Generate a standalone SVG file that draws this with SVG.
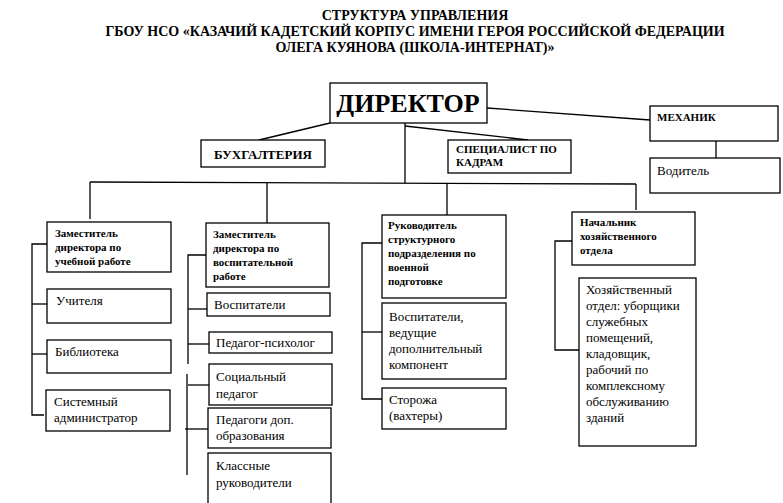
<svg xmlns="http://www.w3.org/2000/svg" width="783" height="503" viewBox="0 0 783 503">
<style>
rect{fill:#fff;stroke:#000;stroke-width:1.3}
line,polyline{stroke:#000;stroke-width:1.3;fill:none}
text{font-family:"Liberation Serif",serif;fill:#000}
.t{font-weight:bold;font-size:14px;text-anchor:middle}
.b{font-weight:bold;font-size:11px}
.n{font-size:13px}
</style>
<rect x="0" y="0" width="783" height="503" style="stroke:none"/>
<g id="title">
<text class="t" x="415" y="20">СТРУКТУРА УПРАВЛЕНИЯ</text>
<text class="t" x="415" y="36">ГБОУ НСО «КАЗАЧИЙ КАДЕТСКИЙ КОРПУС ИМЕНИ ГЕРОЯ РОССИЙСКОЙ ФЕДЕРАЦИИ</text>
<text class="t" x="415" y="52">ОЛЕГА КУЯНОВА (ШКОЛА-ИНТЕРНАТ)»</text>
</g>
<g id="connectors">
<line x1="330" y1="123" x2="259" y2="140"/>
<line x1="487" y1="108" x2="650" y2="120"/>
<line x1="405" y1="126" x2="528" y2="140"/>
<line x1="405" y1="123" x2="405" y2="183"/>
<line x1="90" y1="182" x2="636" y2="184"/>
<line x1="90" y1="182" x2="90" y2="219"/>
<line x1="267" y1="183" x2="267" y2="223"/>
<line x1="447" y1="184" x2="447" y2="215"/>
<line x1="636" y1="184" x2="636" y2="210"/>
<line x1="716" y1="141" x2="716" y2="158"/>
<polyline points="47,244 32,244 32,415 44,415"/>
<line x1="32" y1="304" x2="47" y2="304"/>
<line x1="32" y1="354" x2="47" y2="354"/>
<polyline points="206,255 188,255 188,364"/>
<line x1="188" y1="309" x2="207" y2="309"/>
<line x1="188" y1="344" x2="209" y2="344"/>
<line x1="187" y1="374" x2="187" y2="475"/>
<line x1="188" y1="385" x2="209" y2="385"/>
<line x1="185" y1="429" x2="208" y2="429"/>
<polyline points="382,243 362,243 362,399 382,399"/>
<line x1="362" y1="332" x2="382" y2="332"/>
<polyline points="572,241 555,241 555,350 579,350"/>
</g>
<g id="director"><rect x="330" y="83" width="157" height="40"/><text x="408" y="112" style="font-weight:bold;font-size:26px;text-anchor:middle">ДИРЕКТОР</text></g>
<g id="buh"><rect x="201" y="140" width="124" height="27"/><text x="263" y="159" style="font-weight:bold;font-size:13px;text-anchor:middle">БУХГАЛТЕРИЯ</text></g>
<g id="kadry"><rect x="448" y="140" width="123" height="33"/><text class="b" x="456" y="153">СПЕЦИАЛИСТ ПО</text><text class="b" x="456" y="166">КАДРАМ</text></g>
<g id="mehanik"><rect x="650" y="106" width="128" height="35"/><text class="b" x="657" y="121">МЕХАНИК</text></g>
<g id="voditel"><rect x="650" y="158" width="130" height="35"/><text class="n" x="657" y="175">Водитель</text></g>
<g id="zam1"><rect x="47" y="222" width="124" height="50"/><text class="b" x="55" y="237">Заместитель</text><text class="b" x="55" y="251">директора по</text><text class="b" x="55" y="265">учебной работе</text></g>
<g id="uchitelya"><rect x="47" y="289" width="124" height="34"/><text class="n" x="56" y="305">Учителя</text></g>
<g id="biblioteka"><rect x="47" y="340" width="124" height="33"/><text class="n" x="55" y="356">Библиотека</text></g>
<g id="sysadm"><rect x="46" y="390" width="124" height="41"/><text class="n" x="54" y="406">Системный</text><text class="n" x="54" y="422">администратор</text></g>
<g id="zam2"><rect x="206" y="223" width="123" height="64"/><text class="b" x="213" y="238">Заместитель</text><text class="b" x="213" y="252">директора по</text><text class="b" x="213" y="266">воспитательной</text><text class="b" x="213" y="280">работе</text></g>
<g id="vospitateli"><rect x="207" y="293" width="123" height="23"/><text class="n" x="214" y="309">Воспитатели</text></g>
<g id="psiholog"><rect x="209" y="332" width="123" height="21"/><text class="n" x="216" y="347">Педагог-психолог</text></g>
<g id="socped"><rect x="209" y="364" width="123" height="41"/><text class="n" x="216" y="381">Социальный</text><text class="n" x="216" y="398">педагог</text></g>
<g id="dopobr"><rect x="208" y="408" width="123" height="40"/><text class="n" x="216" y="424">Педагоги доп.</text><text class="n" x="216" y="440">образования</text></g>
<g id="klass"><rect x="208" y="453" width="123" height="55"/><text class="n" x="216" y="470">Классные</text><text class="n" x="216" y="487">руководители</text></g>
<g id="ruk"><rect x="382" y="215" width="124" height="83"/><text class="b" x="388" y="229">Руководитель</text><text class="b" x="388" y="243">структурного</text><text class="b" x="388" y="257">подразделения по</text><text class="b" x="388" y="271">военной</text><text class="b" x="388" y="285">подготовке</text></g>
<g id="vosp2"><rect x="382" y="303" width="124" height="76"/><text class="n" x="389" y="321">Воспитатели,</text><text class="n" x="389" y="337">ведущие</text><text class="n" x="389" y="353">дополнительный</text><text class="n" x="389" y="369">компонент</text></g>
<g id="storozha"><rect x="382" y="388" width="124" height="41"/><text class="n" x="389" y="404">Сторожа</text><text class="n" x="389" y="420">(вахтеры)</text></g>
<g id="nach"><rect x="572" y="212" width="123" height="53"/><text class="b" x="580" y="226">Начальник</text><text class="b" x="580" y="240">хозяйственного</text><text class="b" x="580" y="254">отдела</text></g>
<g id="hoz"><rect x="579" y="278" width="117" height="168"/><text class="n" x="586" y="294">Хозяйственный</text><text class="n" x="586" y="310">отдел: уборщики</text><text class="n" x="586" y="326">служебных</text><text class="n" x="586" y="342">помещений,</text><text class="n" x="586" y="358">кладовщик,</text><text class="n" x="586" y="374">рабочий по</text><text class="n" x="586" y="390">комплексному</text><text class="n" x="586" y="406">обслуживанию</text><text class="n" x="586" y="422">зданий</text></g>
</svg>
